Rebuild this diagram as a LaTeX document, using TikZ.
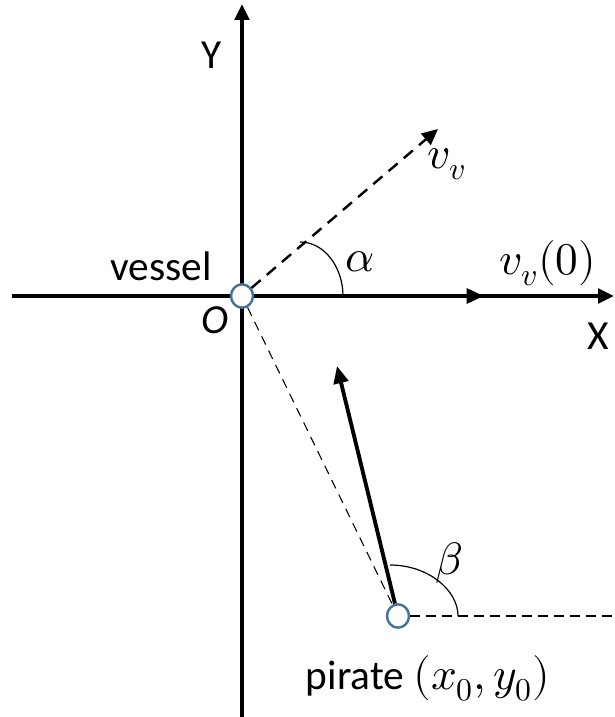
\documentclass[tikz,border=0pt]{standalone}
\usepackage{unicode-math}
\setmainfont{Carlito}
\setmathfont{Latin Modern Math}
\usetikzlibrary{arrows.meta,shapes.geometric}
\begin{document}
\begin{tikzpicture}[x=0.75pt,y=-0.75pt,
  lbl/.style={inner sep=0pt,font=\fontsize{31}{36}\selectfont},
  mlbl/.style={inner sep=0pt,font=\fontsize{34}{38}\selectfont},
  ship/.style={draw={rgb,255:red,65;green,113;blue,156},fill=white,line width=1.8pt,ellipse,minimum width=16.5pt,minimum height=17.5pt,inner sep=0pt},
  axis/.style={line width=2.6pt,-{Triangle[length=12pt,width=11pt]}},
  vec/.style={line width=2.9pt,-{Triangle[length=13pt,width=11pt]}},
  dsh/.style={line width=1.8pt,dash pattern=on 9pt off 6pt,-{Triangle[length=12pt,width=11pt]}},
  thin dsh/.style={line width=0.8pt,dash pattern=on 7pt off 5pt},
  arcline/.style={line width=0.9pt}]
\useasboundingbox (0,0) rectangle (614,717);
% coordinates
\coordinate (xl) at (12,296);
\coordinate (xr) at (614,296);
\coordinate (yb) at (242,717);
\coordinate (yt) at (242,4);
\coordinate (v0) at (484,296);
\coordinate (vv) at (438,129);
\coordinate (pt) at (337,366);
\coordinate (hr) at (614,616);
% axes
\draw[axis] (xl) -- (xr);
\draw[axis] (yb) -- (yt);
% nodes
\node[ship] (O) at (242,296) {};
\node[ship] (P) at (398,616) {};
% vectors
\draw[vec] (O) -- (v0);
\draw[dsh] (O) -- (vv);
\draw[thin dsh] (O) -- (P);
\draw[thin dsh] (P) -- (hr);
\draw[vec] (P) -- (pt);
% arcs
\draw[arcline] (300,242) .. controls (325,242) and (343,268) .. (343,296);
\draw[arcline] (390,565) .. controls (428,565) and (458,590) .. (458,616);
% labels
\node[lbl] (ly) at (212,55) {Y};
\node[lbl] (lx) at (598,336) {X};
\node[lbl] (lves) at (161,266) {vessel};
\node[lbl] (lo) at (215,320) {\itshape O};
\node[mlbl] (lvv) at (447,164) {$v_v$};
\node[mlbl] (lv0) at (548,263) {$v_v(0)$};
\node[mlbl] (la) at (360,262) {$\alpha$};
\node[mlbl] (lb) at (449,563) {$\beta$};
\node[lbl] (lp) at (428,678) {pirate {\fontsize{34}{38}\selectfont$(x_0,y_0)$}};
\end{tikzpicture}
\end{document}
